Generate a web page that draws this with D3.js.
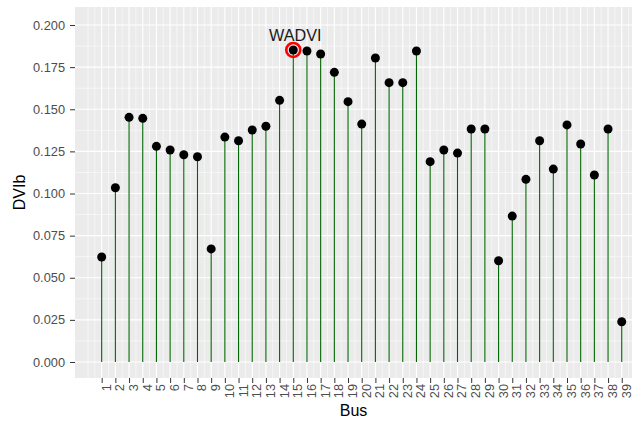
<!DOCTYPE html>
<html lang="en">
<head>
    <meta charset="utf-8">
    <title>DVIb by Bus</title>
    <script src="https://d3js.org/d3.v7.min.js"></script>
    <style>
        body { margin: 0; background: white; }
        svg { display: block; font-family: "Liberation Sans", Arial, sans-serif; }
        .tick text { fill: #4d4d4d; font-size: 12.8px; }
        .tick line { stroke: #333333; }
    </style>
</head>
<body>
    <div id="chart"></div>
    <script>
        // Data
        var buses = d3.range(1, 40);
        var dvib = [
            0.0623, 0.1034, 0.1452, 0.1446, 0.1280, 0.1258, 0.1230, 0.1218, 0.0671, 0.1335,
            0.1313, 0.1377, 0.1399, 0.1553, 0.1852, 0.1846, 0.1828, 0.1719, 0.1545, 0.1412,
            0.1804, 0.1658, 0.1658, 0.1846, 0.1189, 0.1258, 0.1240, 0.1383, 0.1383, 0.0601,
            0.0866, 0.1084, 0.1313, 0.1145, 0.1407, 0.1294, 0.1110, 0.1383, 0.0239
        ];
        var yTicks = [0, 0.025, 0.05, 0.075, 0.1, 0.125, 0.15, 0.175, 0.2];
        var highlight = { bus: 15, label: "WADVI" };

        var data = buses.map((b, i) => ({ bus: b, value: dvib[i] }));

        var width = 639, height = 427;
        var panel = { left: 75, right: 632, top: 7, bottom: 378 };

        var svg = d3.select("#chart").append("svg")
            .attr("width", width)
            .attr("height", height);

        var x = d3.scaleLinear().domain([-0.95, 39.75]).range([panel.left, panel.right]);
        var y = d3.scaleLinear().domain([-0.0095, 0.2107]).range([panel.bottom, panel.top]);

        // panel background
        svg.append("rect")
            .attr("x", panel.left).attr("y", panel.top)
            .attr("width", panel.right - panel.left)
            .attr("height", panel.bottom - panel.top)
            .attr("fill", "#ebebeb");

        var grid = svg.append("g");

        // minor grid
        var xMinor = [0].concat(d3.range(0.5, 40, 1)).filter(d => x(d) < panel.right);
        var yMinor = d3.range(0.0125, 0.2, 0.025);
        grid.selectAll(".xminor").data(xMinor).enter().append("line")
            .attr("x1", d => x(d)).attr("x2", d => x(d))
            .attr("y1", panel.top).attr("y2", panel.bottom)
            .attr("stroke", "white").attr("stroke-width", 0.55);
        grid.selectAll(".yminor").data(yMinor).enter().append("line")
            .attr("x1", panel.left).attr("x2", panel.right)
            .attr("y1", d => y(d)).attr("y2", d => y(d))
            .attr("stroke", "white").attr("stroke-width", 0.55);

        // major grid
        grid.selectAll(".xmajor").data(buses).enter().append("line")
            .attr("x1", d => x(d)).attr("x2", d => x(d))
            .attr("y1", panel.top).attr("y2", panel.bottom)
            .attr("stroke", "white").attr("stroke-width", 1.1);
        grid.selectAll(".ymajor").data(yTicks).enter().append("line")
            .attr("x1", panel.left).attr("x2", panel.right)
            .attr("y1", d => y(d)).attr("y2", d => y(d))
            .attr("stroke", "white").attr("stroke-width", 1.1);

        // stems
        svg.append("g").selectAll("line").data(data).enter().append("line")
            .attr("x1", d => x(d.bus)).attr("x2", d => x(d.bus))
            .attr("y1", y(0)).attr("y2", d => y(d.value))
            .attr("stroke", "#006400").attr("stroke-width", 1.1);

        // points
        svg.append("g").selectAll("circle").data(data).enter().append("circle")
            .attr("cx", d => x(d.bus)).attr("cy", d => y(d.value))
            .attr("r", 4.5).attr("fill", "black");

        // highlighted bus
        var hl = data.find(d => d.bus === highlight.bus);
        svg.append("circle")
            .attr("cx", x(hl.bus)).attr("cy", y(hl.value))
            .attr("r", 7).attr("fill", "none")
            .attr("stroke", "red").attr("stroke-width", 2.6);
        svg.append("text")
            .attr("x", x(hl.bus) + 2).attr("y", y(hl.value) - 9)
            .attr("text-anchor", "middle")
            .attr("font-size", "16.2px")
            .attr("fill", "#1a1a1a")
            .text(highlight.label);

        // y axis
        var yAxis = svg.append("g")
            .attr("transform", "translate(" + panel.left + ",0)")
            .call(d3.axisLeft(y).tickValues(yTicks).tickFormat(d3.format(".3f"))
                .tickSize(5).tickPadding(5).tickSizeOuter(0));
        yAxis.select(".domain").remove();
        yAxis.selectAll("text").attr("font-family", null).attr("font-size", null);

        // x axis
        var xAxis = svg.append("g")
            .attr("transform", "translate(0," + panel.bottom + ")")
            .call(d3.axisBottom(x).tickValues(buses).tickFormat(d3.format("d"))
                .tickSize(5).tickSizeOuter(0));
        xAxis.select(".domain").remove();
        xAxis.selectAll("text")
            .attr("font-family", null).attr("font-size", null)
            .attr("transform", "rotate(-90)")
            .attr("text-anchor", "end")
            .attr("x", -6).attr("y", 4).attr("dy", "0.35em");

        // axis titles
        svg.append("text")
            .attr("x", (panel.left + panel.right) / 2).attr("y", 416)
            .attr("text-anchor", "middle")
            .attr("font-size", "16px").attr("fill", "black")
            .text("Bus");
        svg.append("text")
            .attr("transform", "translate(25," + (panel.top + panel.bottom) / 2 + ") rotate(-90)")
            .attr("text-anchor", "middle")
            .attr("font-size", "16px").attr("fill", "black")
            .text("DVIb");
    </script>
</body>
</html>
